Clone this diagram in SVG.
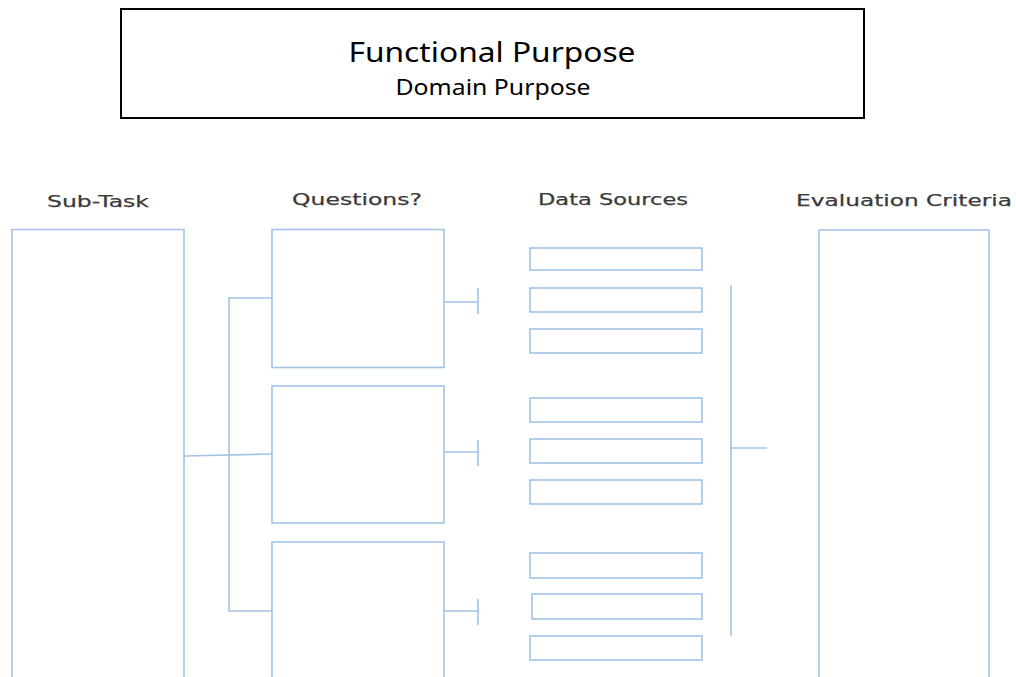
<svg xmlns="http://www.w3.org/2000/svg" width="1016" height="677" viewBox="0 0 1016 677">
<style>
.b{fill:none;stroke:#a2c3e6;stroke-width:1.6}
.c{fill:none;stroke:#a2c3e6;stroke-width:1.6}
.h{font-family:"DejaVu Sans",sans-serif;font-size:16.5px;fill:#3a3a3a;text-anchor:middle;stroke:#3a3a3a;stroke-width:0.25}
.t{font-family:"Noto Sans","Open Sans",sans-serif;fill:#000;text-anchor:middle}
</style>
<rect width="1016" height="677" fill="#fff"/>
<g id="functional-purpose">
<rect x="121" y="9" width="743" height="109" fill="#fff" stroke="#000" stroke-width="2"/>
<text class="t" x="492" y="62" font-size="28" textLength="287" lengthAdjust="spacingAndGlyphs">Functional Purpose</text>
<text class="t" x="493" y="95" font-size="21" textLength="195" lengthAdjust="spacingAndGlyphs">Domain Purpose</text>
</g>
<g id="headers">
<text class="h" x="98" y="207" textLength="102" lengthAdjust="spacingAndGlyphs">Sub-Task</text>
<text class="h" x="357" y="205" textLength="130" lengthAdjust="spacingAndGlyphs">Questions?</text>
<text class="h" x="613" y="205" textLength="150" lengthAdjust="spacingAndGlyphs">Data Sources</text>
<text class="h" x="904" y="206" textLength="216" lengthAdjust="spacingAndGlyphs">Evaluation Criteria</text>
</g>
<g id="sub-task">
<path class="b" d="M12,680 V229.5 H184 V680"/>
</g>
<g id="question-1"><rect class="b" x="272" y="229.5" width="172" height="138"/></g>
<g id="question-2"><rect class="b" x="272" y="386" width="172" height="137"/></g>
<g id="question-3"><path class="b" d="M272,680 V542 H444 V680"/></g>
<g id="data-sources">
<rect class="b" x="530" y="248" width="172" height="22"/>
<rect class="b" x="530" y="288" width="172" height="24"/>
<rect class="b" x="530" y="329" width="172" height="24"/>
<rect class="b" x="530" y="398" width="172" height="24"/>
<rect class="b" x="530" y="439" width="172" height="24"/>
<rect class="b" x="530" y="480" width="172" height="24"/>
<rect class="b" x="530" y="553" width="172" height="25"/>
<rect class="b" x="532" y="594" width="170" height="25"/>
<rect class="b" x="530" y="636" width="172" height="24"/>
</g>
<g id="evaluation-criteria">
<path class="b" d="M819,680 V230 H989 V680"/>
</g>
<g id="connectors">
<path class="c" d="M184,456 L272,454"/>
<path class="c" d="M272,298 H229 V611 H272"/>
<path class="c" d="M444,302 H478 M478,288 V314"/>
<path class="c" d="M444,452 H478 M478,440 V466"/>
<path class="c" d="M444,611 H478 M478,599 V625"/>
<path class="c" d="M731,285 V636 M731,448 H767"/>
</g>
</svg>
